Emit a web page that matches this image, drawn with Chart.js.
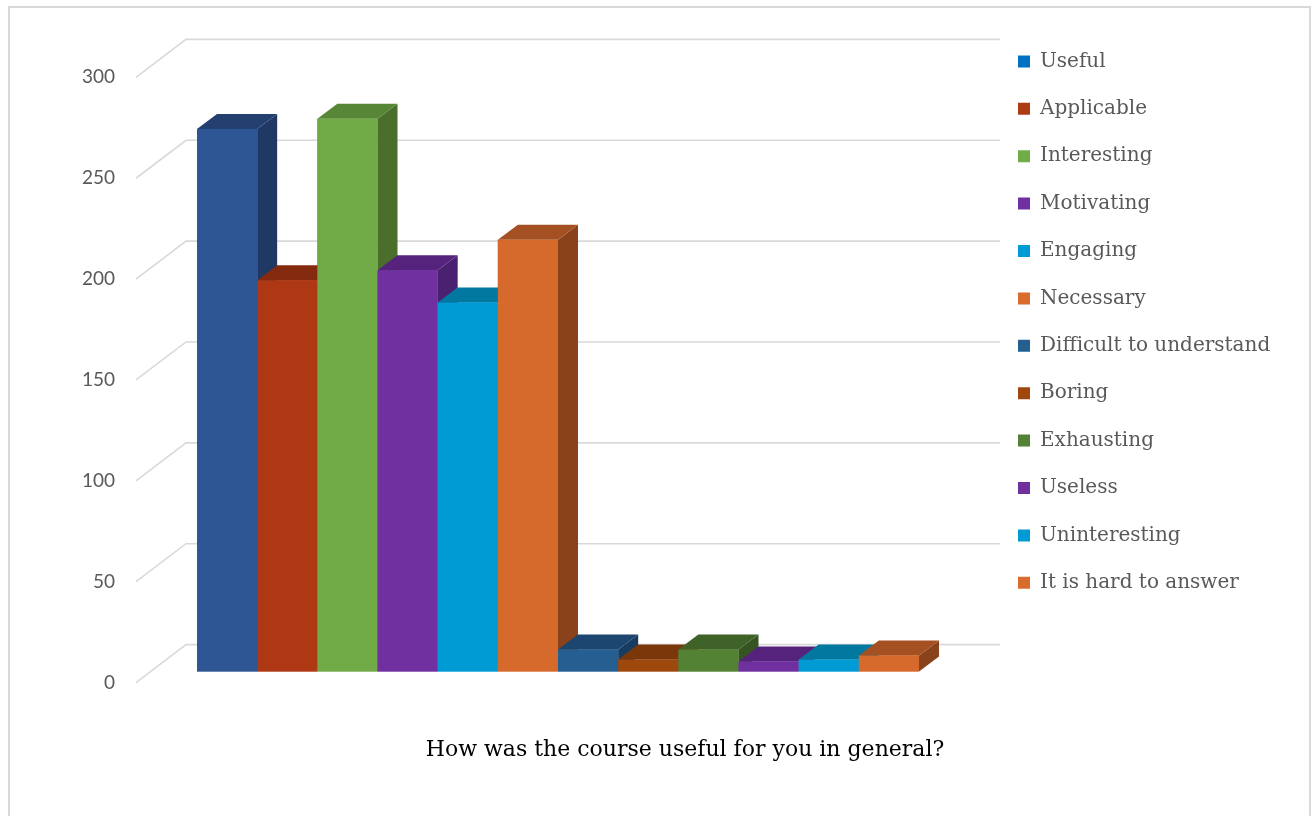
<!DOCTYPE html>
<html>
<head>
<meta charset="utf-8">
<script src="https://cdn.jsdelivr.net/npm/chart.js@4/dist/chart.umd.min.js"></script>
<style>
  body { margin: 0; background: #fff; }
  #wrap { position: relative; width: 1314px; height: 816px; overflow: hidden; }
  #frame { position: absolute; left: 8px; top: 6px; width: 1299px; height: 830px; border: 2px solid #d9d9d9; pointer-events: none; }
</style>
</head>
<body>
<div id="wrap">
  <canvas id="chart" width="1314" height="816"></canvas>
  <div id="frame"></div>
</div>
<script>
const question = "How was the course useful for you in general?";
const answers = ["Useful", "Applicable", "Interesting", "Motivating", "Engaging", "Necessary",
  "Difficult to understand", "Boring", "Exhausting", "Useless", "Uninteresting", "It is hard to answer"];
const counts = [269, 194, 274, 199, 183, 214, 11, 6, 11, 5, 6, 8];
const yTicks = [0, 50, 100, 150, 200, 250, 300];

const frontColors = ["#2e5594", "#ae3714", "#70ab47", "#7030a0", "#009ad4", "#d6692c",
  "#255e91", "#9e480e", "#548235", "#7030a0", "#009ad4", "#d6692c"];
const topColors = ["#223f70", "#842a0e", "#578636", "#55237c", "#00789f", "#a55022",
  "#1c4670", "#7a370a", "#3f6228", "#55237c", "#00789f", "#a55022"];
const sideColors = ["#1f3864", "#74250c", "#4a6e2b", "#4a2070", "#006a8c", "#8a421a",
  "#183c60", "#6a3009", "#365422", "#4a2070", "#006a8c", "#8a421a"];
const legendColors = ["#0070c0", "#ae3a14", "#70ad47", "#7030a0", "#009bd5", "#d86c2d",
  "#255e91", "#9e480e", "#548235", "#7030a0", "#009bd5", "#d86c2d"];

// layout numbers
const barsLeft = 197, barsRight = 919;
const legendPad = 27.4, legendSize = 20;
const legendLeft = 1018 - legendPad;
const titleCenter = 685;
const tickRight = 115, tickSize = 19;
const depthX = 20, depthY = -15;     // bar depth
const wallX = 50, wallY = -38;       // floor/wall depth
const gridFrontX = 136, gridRight = 1000;

// legend width -> right padding so the legend starts where we want
const mctx = document.createElement("canvas").getContext("2d");
mctx.font = legendSize + "px DejaVu Serif";
const maxText = Math.max(...answers.map(t => mctx.measureText(t).width));
const legendW = legendPad + 12 + legendSize / 2 + maxText + 10;
const padRight = Math.max(0, 1314 - legendLeft - legendW);
const padLeft = Math.max(0, 2 * titleCenter - 1314 + padRight);
const chartLeft = 2 * ((barsLeft + barsRight) / 2) - legendLeft;
const yWidth = chartLeft - padLeft;
const catPct = (barsRight - barsLeft) / (legendLeft - chartLeft);
mctx.font = tickSize + "px Lato";
const tickW = Math.max(...yTicks.map(v => mctx.measureText(String(v)).width));

const bars3d = {
  id: "bars3d",
  beforeDatasetsDraw(chart) {
    const ctx = chart.ctx, y = chart.scales.y;
    ctx.save();
    ctx.strokeStyle = "#d9d9d9";
    ctx.lineWidth = 1.6;
    yTicks.forEach(v => {
      const py = y.getPixelForValue(v);
      ctx.beginPath();
      ctx.moveTo(gridFrontX, py + 11);
      ctx.lineTo(gridFrontX + wallX, py + 11 + wallY);
      ctx.lineTo(gridRight, py + 11 + wallY);
      ctx.stroke();
    });
    ctx.restore();
  },
  afterDatasetsDraw(chart) {
    const ctx = chart.ctx;
    ctx.save();
    chart.data.datasets.forEach((ds, i) => {
      const el = chart.getDatasetMeta(i).data[0];
      const x0 = el.x - el.width / 2, x1 = el.x + el.width / 2;
      const top = el.y, base = el.base;
      // side
      ctx.fillStyle = sideColors[i];
      ctx.beginPath();
      ctx.moveTo(x1, top); ctx.lineTo(x1 + depthX, top + depthY);
      ctx.lineTo(x1 + depthX, base + depthY); ctx.lineTo(x1, base);
      ctx.closePath(); ctx.fill();
      // top
      ctx.fillStyle = topColors[i];
      ctx.beginPath();
      ctx.moveTo(x0, top); ctx.lineTo(x1, top);
      ctx.lineTo(x1 + depthX, top + depthY); ctx.lineTo(x0 + depthX, top + depthY);
      ctx.closePath(); ctx.fill();
      // front
      ctx.fillStyle = frontColors[i];
      ctx.fillRect(x0, top, x1 - x0, base - top);
    });
    ctx.restore();
  }
};

new Chart(document.getElementById("chart"), {
  type: "bar",
  data: {
    labels: [question],
    datasets: answers.map((a, i) => ({
      label: a,
      data: [counts[i]],
      backgroundColor: frontColors[i],
      barPercentage: 1,
      categoryPercentage: catPct
    }))
  },
  options: {
    responsive: false,
    animation: false,
    devicePixelRatio: 1,
    layout: { padding: { left: padLeft, right: padRight, top: 24, bottom: 53 } },
    scales: {
      x: { display: false },
      y: {
        min: 0,
        max: 321,
        grid: { display: false },
        border: { display: false },
        afterFit: s => { s.width = yWidth; },
        ticks: {
          stepSize: 50,
          includeBounds: false,
          mirror: true,
          crossAlign: "far",
          padding: tickRight - chartLeft - tickW,
          labelOffset: 11,
          color: "#595959",
          font: { family: "Lato", size: tickSize }
        }
      }
    },
    plugins: {
      legend: {
        position: "right",
        align: "start",
        labels: {
          boxWidth: 12,
          boxHeight: 12,
          padding: legendPad,
          color: "#595959",
          font: { family: "DejaVu Serif", size: legendSize },
          generateLabels: chart => Chart.defaults.plugins.legend.labels.generateLabels(chart)
            .map((l, i) => Object.assign(l, { fillStyle: legendColors[i], strokeStyle: legendColors[i], lineWidth: 0 }))
        }
      },
      title: {
        display: true,
        position: "bottom",
        text: question,
        color: "#000",
        font: { family: "DejaVu Serif", size: 22, weight: "normal" },
        padding: { top: 65, bottom: 0 }
      },
      tooltip: { enabled: false }
    }
  },
  plugins: [bars3d]
});
</script>
</body>
</html>
